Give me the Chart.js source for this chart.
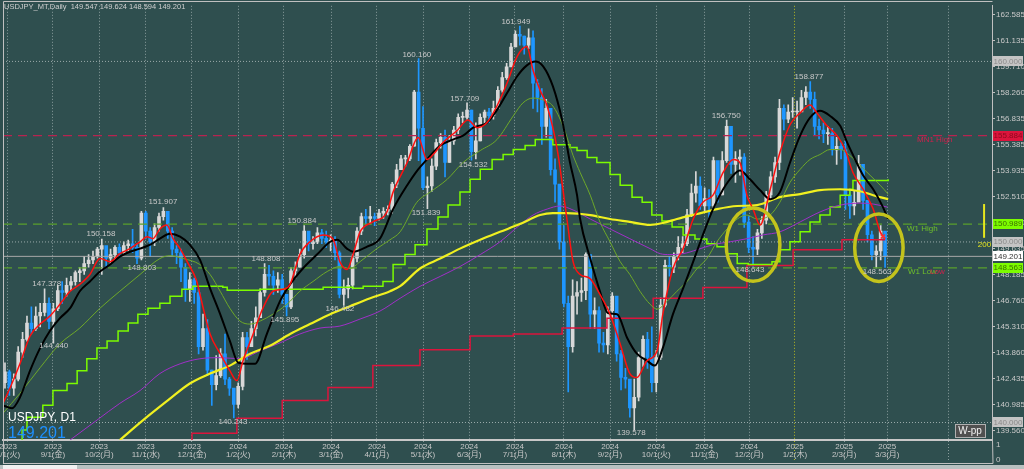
<!DOCTYPE html>
<html>
<head>
<meta charset="utf-8">
<script src="https://cdn.jsdelivr.net/npm/chart.js@4.4.1/dist/chart.umd.min.js"></script>
<style>
html, body { margin: 0; padding: 0; background: #2f4f4f; overflow: hidden; }
canvas { display: block; }
</style>
</head>
<body>
<canvas id="chart" width="1024" height="469"></canvas>
<script>
// ============================================================================
// 1. DATA  (one bar ~ 2 trading days, USDJPY Aug 2023 -> Mar 2025)
// ============================================================================

const firstOpen = 142.2;

const closes = [
  142.8, 141.9, 142.4, 143.9, 144.6, 145.5, 145.2, 145.9, 146.1, 146.6, 145.6,        // Aug 23
  146.3, 147.3, 147.2, 147.6, 147.8, 148.3, 148.4, 148.8, 149.0, 149.2, 149.6,        // Sep
  149.8, 149.1, 149.3, 149.7, 149.4, 149.8, 149.9, 149.7, 149.1, 151.6,               // Oct
  150.6, 150.0, 150.8, 151.4, 151.7, 150.6, 149.6, 149.4, 148.6, 147.4, 147.9,        // Nov
  147.2, 144.2, 145.2, 142.9, 142.1, 142.6, 143.8, 142.4, 141.9, 141.0,               // Dec
  142.0, 144.7, 144.2, 145.2, 145.8, 147.2, 148.2, 148.1, 147.6, 147.9, 147.1,        // Jan 24
  146.4, 148.4, 148.6, 149.3, 150.6, 149.9, 150.0, 150.5, 150.2, 150.0,               // Feb
  150.1, 149.4, 147.1, 147.4, 147.6, 149.1, 150.6, 151.4, 151.3, 151.4, 151.3,        // Mar
  151.6, 151.7, 151.8, 153.2, 154.0, 154.6, 154.6, 155.3, 158.3, 156.3, 153.0,        // Apr
  153.1, 154.2, 155.5, 155.8, 154.4, 155.6, 156.2, 156.9, 156.9, 157.3,               // May
  155.0, 155.6, 156.9, 157.2, 157.0, 157.4, 158.4, 159.1, 159.7, 160.8,               // Jun
  161.5, 161.4, 160.9, 161.3, 158.8, 158.0, 156.4, 157.4, 154.0, 153.2, 150.0,        // Jul
  146.6, 144.2, 147.0, 147.2, 147.3, 149.3, 146.0, 146.2, 144.4, 144.3, 146.2,        // Aug
  147.0, 143.8, 142.5, 142.4, 140.8, 141.4, 143.6, 144.6, 143.6, 142.2,               // Sep
  143.6, 146.5, 148.7, 148.6, 149.2, 149.7, 149.9, 151.5, 152.7, 153.1, 152.0,        // Oct
  152.4, 152.0, 154.5, 152.6, 154.5, 156.4, 154.3, 154.6, 154.7, 151.1,               // Nov
  149.7, 149.6, 150.5, 151.2, 152.6, 153.6, 154.4, 157.4, 156.8, 157.2, 157.2,        // Dec
  157.2, 158.0, 158.3, 157.9, 156.4, 156.2, 156.0, 156.0, 155.1, 155.3, 155.1,        // Jan 25
  152.6, 152.0, 152.2, 154.3, 152.3, 150.4, 149.3, 149.5, 150.6,                      // Feb
  149.2                                                                               // Mar
];

const highs = [
  143.3, 142.9, 142.7, 144.2, 145.0, 145.9, 146.4, 146.4, 146.6, 147.4, 146.9,
  146.6, 147.6, 147.8, 148.0, 148.1, 148.4, 148.6, 149.2, 149.3, 149.5, 149.7,
  150.16, 149.6, 149.6, 149.8, 149.9, 150.0, 150.1, 150.7, 149.9, 151.7,
  151.7, 150.8, 151.0, 151.6, 151.9, 151.5, 150.8, 149.8, 149.6, 148.8, 148.3,
  148.0, 147.4, 146.0, 145.7, 142.9, 143.7, 144.1, 144.9, 142.5, 141.8,
  142.2, 145.0, 145.0, 145.6, 146.4, 147.4, 148.8, 148.7, 148.4, 148.3, 148.2,
  147.0, 148.6, 148.9, 149.6, 150.9, 150.4, 150.3, 150.8, 150.7, 150.6,
  150.4, 150.3, 149.5, 147.9, 148.0, 149.3, 150.8, 151.6, 151.8, 151.97, 151.6,
  151.8, 151.9, 152.0, 153.3, 154.3, 154.8, 154.8, 155.4, 158.4, 160.16, 157.5,
  153.6, 154.6, 155.7, 156.0, 156.2, 155.9, 156.4, 157.1, 157.2, 157.71,
  157.3, 156.6, 157.1, 157.3, 157.4, 157.8, 158.6, 159.4, 159.9, 161.0,
  161.7, 161.95, 161.4, 161.8, 161.7, 159.0, 158.5, 157.9, 157.4, 154.6, 153.0,
  150.9, 147.0, 147.9, 147.8, 148.0, 149.4, 149.1, 146.9, 146.4, 145.0, 146.4,
  147.2, 146.5, 144.0, 143.0, 141.7, 142.4, 143.9, 144.8, 145.0, 145.3,
  144.0, 146.9, 149.0, 149.2, 149.4, 150.3, 150.3, 151.8, 153.2, 153.9, 153.6,
  153.0, 152.9, 154.7, 154.4, 155.0, 156.75, 156.2, 155.0, 155.1, 154.9,
  151.4, 150.3, 150.7, 151.4, 152.8, 153.9, 154.7, 157.9, 157.6, 157.6, 158.0,
  157.8, 158.4, 158.6, 158.88, 158.3, 156.8, 156.6, 156.4, 156.3, 155.8, 155.5,
  155.6, 152.9, 152.8, 154.8, 154.3, 152.3, 150.6, 149.8, 150.9,
  149.6
];

const lows = [
  141.9, 141.5, 141.5, 142.3, 143.6, 144.5, 144.9, 145.1, 145.3, 145.9, 145.2,
  144.4, 146.2, 146.6, 147.0, 147.3, 147.6, 147.8, 148.2, 148.6, 148.8, 149.1,
  148.2, 148.6, 148.8, 149.0, 149.2, 149.3, 149.5, 149.4, 148.8, 149.0,
  150.2, 149.2, 149.8, 150.6, 151.2, 150.2, 149.2, 148.8, 147.8, 146.7, 146.7,
  146.6, 143.8, 144.0, 142.6, 140.95, 141.8, 142.5, 142.1, 141.5, 140.25,
  140.8, 141.8, 143.5, 144.4, 144.8, 145.9, 147.0, 147.6, 147.1, 147.2, 146.6,
  145.9, 146.3, 148.0, 148.6, 149.1, 149.5, 149.6, 149.9, 149.9, 149.7,
  149.5, 149.0, 146.9, 146.48, 146.9, 147.4, 148.9, 150.4, 150.9, 151.0, 150.9,
  151.2, 151.3, 151.5, 151.6, 153.0, 154.0, 154.2, 154.5, 155.3, 154.5, 152.9,
  151.84, 152.8, 154.0, 155.2, 153.6, 154.4, 155.4, 156.0, 156.6, 156.8,
  154.53, 154.6, 155.6, 156.5, 156.6, 156.8, 157.4, 158.3, 159.0, 159.8,
  160.8, 160.9, 160.4, 160.7, 157.4, 157.2, 155.4, 155.8, 153.7, 152.2, 149.6,
  146.4, 141.7, 143.9, 146.0, 146.7, 146.8, 145.2, 145.2, 143.9, 143.9, 143.8,
  145.8, 143.4, 141.8, 141.9, 140.3, 139.58, 141.2, 143.1, 143.0, 141.7,
  141.7, 143.5, 146.4, 148.1, 148.3, 149.0, 149.4, 149.8, 151.4, 152.2, 151.8,
  151.7, 151.3, 151.9, 152.2, 152.6, 154.4, 153.8, 153.3, 153.7, 150.8,
  149.4, 148.64, 149.3, 150.2, 151.0, 152.3, 153.3, 154.0, 156.2, 156.6, 156.9,
  156.3, 157.3, 157.6, 157.4, 155.9, 155.7, 155.5, 155.4, 154.8, 154.3, 154.6,
  151.8, 151.3, 151.5, 152.8, 151.8, 150.0, 149.0, 148.56, 149.0,
  148.59
];

// month separators (bar position) and their labels
const monthTicks = [0.68, 10.9, 21.4, 32.0, 42.5, 53.0, 63.4, 74.1, 84.5, 95.0, 105.5,
  115.9, 127.0, 137.5, 148.0, 158.9, 169.1, 179.5, 190.7, 200.5, 214.5];
const monthLabels = [
  ['2023', '8/1(火)'], ['2023', '9/1(金)'], ['2023', '10/2(月)'], ['2023', '11/1(水)'],
  ['2023', '12/1(金)'], ['2024', '1/2(火)'], ['2024', '2/1(木)'], ['2024', '3/1(金)'],
  ['2024', '4/1(月)'], ['2024', '5/1(水)'], ['2024', '6/3(月)'], ['2024', '7/1(月)'],
  ['2024', '8/1(木)'], ['2024', '9/2(月)'], ['2024', '10/1(火)'], ['2024', '11/1(金)'],
  ['2024', '12/2(月)'], ['2025', '1/2(木)'], ['2025', '2/3(月)'], ['2025', '3/3(月)'], ''
];
const yearSeparator = 179.5; // yellow dotted line

const priceTicks = [162.585, 161.135, 159.710, 158.260, 156.835, 155.385, 153.935, 152.510,
  151.060, 149.635, 148.185, 146.760, 145.310, 143.860, 142.435, 140.985, 139.560];

// indicator lines: [bar, price]
const maFast = [[-0.45,141.06],[1.1,141.88],[3.4,143.25],[5.7,144.79],[8.0,145.45],[10.2,145.89],[12.5,146.55],[14.8,147.27],[17.0,147.65],[19.3,148.20],[21.6,149.08],[23.9,148.91],[26.1,149.35],[28.4,149.63],[30.7,150.01],[32.3,150.29],[33.6,150.18],[35.2,150.72],[36.8,150.94],[38.2,150.18],[39.8,149.63],[41.4,148.91],[43.6,147.81],[44.3,147.10],[46.6,144.90],[48.9,143.81],[51.1,142.87],[52.7,142.32],[54.1,143.42],[56.4,144.90],[58.6,146.33],[60.9,147.27],[63.2,147.38],[64.8,147.65],[67.0,149.30],[69.3,150.01],[72.3,150.39],[74.5,150.18],[76.1,148.91],[77.7,148.47],[79.1,149.30],[80.7,150.56],[83.6,151.11],[86.8,151.66],[88.2,152.76],[91.4,154.40],[93.9,155.78],[95.9,154.57],[97.3,154.84],[99.5,155.50],[102.7,156.16],[105.2,156.76],[107.3,156.33],[109.5,156.60],[111.8,157.53],[114.1,158.80],[116.4,160.28],[118.6,160.83],[120.0,159.51],[121.6,158.41],[123.2,157.53],[125.5,155.12],[127.7,151.27],[129.1,148.91],[130.7,148.20],[132.9,147.98],[135.2,147.10],[137.5,146.00],[139.8,144.35],[142.0,142.71],[143.6,142.49],[145.9,143.42],[148.2,143.97],[149.5,146.00],[151.8,148.53],[154.1,149.63],[156.4,151.27],[158.6,152.20],[160.9,152.59],[163.2,153.85],[165.5,154.57],[167.0,154.40],[168.6,152.59],[170.0,151.82],[171.6,150.94],[173.9,152.92],[176.1,154.95],[178.4,156.49],[180.7,157.15],[182.95,157.59],[184.5,157.15],[186.8,156.43],[189.1,155.89],[190.9,155.12],[192.7,153.85],[195.0,152.92],[197.3,151.82],[198.9,150.56],[200.0,150.18]];

const maMid = [[-0.45,140.95],[1.6,140.79],[3.4,141.39],[5.7,142.87],[8.0,144.13],[10.2,145.07],[12.5,145.78],[14.8,146.33],[17.0,147.27],[19.3,147.81],[21.6,148.36],[23.9,148.75],[26.1,149.19],[28.4,149.46],[30.7,149.63],[33.0,149.85],[35.2,150.18],[37.5,150.45],[39.8,150.29],[42.0,149.85],[44.3,149.02],[46.6,147.43],[48.9,146.00],[51.1,144.52],[53.0,143.31],[55.0,143.25],[56.8,143.25],[59.5,144.90],[62.5,146.72],[64.8,147.65],[67.7,148.53],[70.9,149.30],[73.9,150.01],[75.5,150.12],[77.7,149.63],[79.1,149.46],[82.3,149.74],[85.2,150.18],[88.2,151.82],[91.4,153.14],[93.9,154.02],[95.9,154.57],[98.9,155.34],[101.8,155.67],[104.1,155.89],[106.4,156.33],[109.5,156.60],[111.8,157.31],[114.1,158.25],[116.4,159.18],[118.6,159.78],[120.5,160.00],[122.3,159.73],[124.5,158.63],[126.6,156.76],[128.4,154.40],[130.0,152.59],[130.7,151.27],[133.0,149.08],[135.2,147.27],[137.0,146.06],[139.1,146.00],[141.4,144.68],[143.6,143.81],[145.9,143.42],[147.7,143.15],[149.5,144.13],[151.8,146.00],[154.1,147.43],[156.4,148.91],[158.6,150.39],[160.9,151.82],[163.2,152.92],[165.5,153.69],[167.0,153.96],[169.3,153.47],[171.6,152.87],[173.9,152.37],[176.1,152.76],[178.4,154.40],[180.7,155.89],[182.95,156.88],[185.2,157.26],[187.5,156.98],[189.8,156.43],[191.4,155.50],[193.2,154.57],[195.0,153.69],[197.3,152.92],[199.3,152.04],[200.7,151.27]];

const maSlow = [[-0.45,140.51],[3.4,141.61],[8.0,143.04],[12.5,144.36],[17.0,145.23],[21.6,146.33],[26.1,147.27],[30.7,148.20],[35.2,149.08],[37.5,149.24],[40.5,149.08],[44.3,148.75],[46.6,148.20],[48.9,147.27],[51.1,146.33],[53.4,145.62],[55.7,145.45],[58.0,145.62],[60.9,146.00],[64.1,146.55],[67.0,147.27],[70.0,147.81],[73.2,148.36],[76.1,148.64],[78.4,148.53],[80.7,148.91],[84.5,149.63],[87.5,150.12],[89.8,150.56],[93.6,152.20],[96.6,152.76],[100.5,153.47],[104.1,154.40],[108.0,155.06],[111.8,155.67],[115.5,156.98],[117.7,157.70],[120.0,157.97],[122.3,157.86],[124.5,157.53],[126.8,156.43],[129.1,154.79],[130.7,153.85],[133.0,152.59],[135.2,151.11],[137.5,150.01],[139.8,148.91],[142.0,148.20],[144.3,147.27],[146.6,146.55],[148.2,146.28],[150.5,146.72],[152.7,147.27],[155.0,147.81],[157.3,148.53],[159.5,149.08],[161.8,150.01],[164.1,150.72],[166.4,151.27],[168.6,151.49],[170.9,151.27],[173.9,151.49],[176.1,152.20],[178.4,153.30],[180.7,154.02],[182.95,154.57],[185.2,154.84],[187.5,155.12],[189.8,155.12],[192.0,154.79],[194.3,154.24],[196.6,153.69],[198.9,153.14],[200.7,152.65]];

const maPurple = [[14.8,139.03],[20.9,140.13],[26.1,141.06],[30.7,141.77],[35.2,142.71],[39.8,143.25],[44.3,143.53],[48.9,143.59],[53.4,143.53],[58.0,143.97],[62.5,144.41],[67.0,144.90],[71.6,145.23],[76.1,145.34],[80.7,145.73],[85.2,146.17],[89.8,146.88],[94.3,147.54],[98.9,148.09],[103.4,148.64],[108.0,149.30],[112.5,150.01],[117.0,150.94],[120.0,151.49],[123.2,151.82],[126.1,151.99],[129.1,151.77],[133.0,151.27],[137.5,150.72],[142.0,150.18],[146.6,149.63],[148.9,149.35],[151.1,149.30],[154.1,149.35],[157.3,149.57],[160.9,149.85],[164.8,150.01],[168.6,150.18],[172.3,150.39],[176.1,150.56],[180.7,151.11],[185.2,151.66],[189.8,152.04],[194.3,152.15],[197.3,152.10],[200.5,151.93]];

const ma200 = [[26.1,139.03],[31.4,140.13],[37.0,141.22],[42.0,142.16],[46.6,142.71],[51.1,143.15],[55.7,143.81],[60.2,144.25],[64.8,144.90],[69.3,145.45],[73.9,146.00],[78.4,146.44],[83.0,146.88],[87.5,147.27],[89.8,147.55],[94.3,148.53],[98.9,149.08],[103.4,149.63],[108.0,150.12],[112.5,150.56],[117.0,150.99],[121.6,151.49],[124.5,151.60],[127.7,151.60],[133.0,151.49],[137.5,151.27],[142.0,151.11],[146.6,150.94],[149.5,151.05],[152.7,151.27],[157.3,151.55],[161.8,151.82],[166.4,151.99],[170.9,152.04],[176.1,152.48],[180.7,152.65],[185.2,152.87],[189.8,152.92],[194.3,152.81],[197.3,152.59],[200.7,152.37]];

const stepLime = [[-0.45,138.6],[3.9,139.58],[5.0,140.29],[8.6,140.95],[10.9,141.77],[14.1,142.16],[16.4,142.87],[18.6,143.53],[20.9,144.13],[23.2,144.52],[25.7,145.07],[28.0,145.51],[30.2,146.00],[32.5,146.33],[35.2,146.61],[37.5,146.99],[40.2,147.38],[42.7,147.54],[49.5,147.49],[50.5,147.32],[58.0,147.38],[72.3,147.49],[79.1,147.43],[81.4,147.54],[85.9,147.81],[88.2,148.75],[90.9,149.30],[93.2,149.85],[95.9,150.72],[98.4,151.38],[100.7,152.04],[103.4,152.76],[105.7,153.47],[108.0,154.02],[110.7,154.57],[113.2,154.84],[115.5,155.12],[118.2,155.34],[120.5,155.67],[124.5,155.39],[128.4,155.23],[130.0,155.06],[132.3,154.68],[134.5,154.40],[137.5,153.74],[139.8,153.14],[142.5,152.48],[144.8,152.20],[147.0,151.49],[149.3,151.16],[151.6,150.83],[154.1,150.39],[156.8,150.17],[159.5,149.90],[161.8,149.74],[164.1,149.35],[166.4,148.80],[168.9,148.75],[174.3,148.91],[176.1,149.57],[178.4,150.01],[180.7,150.56],[182.95,151.11],[185.2,151.49],[187.5,151.93],[189.8,152.59],[192.0,152.92],[192.7,153.41],[200.7,153.47]];

const stepRed = [[42.5,138.8],[42.5,139.41],[52.7,140.24],[63.0,141.22],[73.4,141.94],[83.6,143.15],[94.3,144.03],[105.7,144.79],[115.5,144.90],[126.6,145.23],[136.8,145.78],[147.3,146.88],[158.6,147.48],[168.6,148.69],[179.1,149.57],[190.2,150.12],[200.0,150.12]];

const levelMN1High = 155.884;
const levelW1High = 150.989;
const levelW1Low = 148.563;
const bidPrice = 149.201;
const roundLevels = [160, 150, 140];

const peakLabels = [
  [116.1,162.20,'161.949'],[93.6,160.39,'160.160'],[104.5,157.92,'157.709'],[106.4,154.29,'154.532'],
  [95.7,151.60,'151.839'],[182.7,159.13,'158.877'],[163.9,156.98,'156.750'],[35.9,152.21,'151.907'],
  [67.5,151.16,'150.884'],[21.8,150.45,'150.158'],[31.1,148.58,'148.803'],[59.3,149.08,'148.808'],
  [9.5,147.70,'147.378'],[63.6,145.67,'145.895'],[76.1,146.28,'146.482'],[11.1,144.25,'144.440'],
  [51.8,140.02,'140.243'],[142.3,139.41,'139.578'],[169.3,148.47,'148.643'],[198.2,148.36,'148.563']
];

// [centre bar, centre price, radius in bars, radius in price]
const circles = [[170.0, 149.85, 6.1, 2.03], [198.6, 149.68, 5.5, 1.87]];

// [price, fill, text]
const priceBoxes = [
  [160.000, '#c4c4c4', '#8a8a8a'], [155.884, '#dc143c', '#8b0a1e'], [150.989, '#7cfc00', '#3c6e00'],
  [150.000, '#c4c4c4', '#8a8a8a'], [149.201, '#ffffff', '#303030'], [148.563, '#7cfc00', '#3c6e00'],
  [140.000, '#c4c4c4', '#8a8a8a']
];

// ============================================================================
// 2. HELPERS
// ============================================================================

const xMin = -0.45, xMax = 224.3, yMin = 139.03, yMax = 163.08;
const opens = [firstOpen].concat(closes.slice(0, -1));
const candleColors = closes.map((c, i) => c >= opens[i] ? '#d8d8d8' : '#1e96ff');

function pts(arr) { return arr.map(p => ({ x: p[0], y: p[1] })); }

function maLine(arr, color, width, order) {
  return { type: 'line', data: pts(arr), borderColor: color, borderWidth: width, pointRadius: 0,
    fill: false, order: order, cubicInterpolationMode: 'monotone' };
}

function stepLine(arr, color, width, order) {
  return { type: 'line', data: pts(arr), borderColor: color, borderWidth: width, pointRadius: 0,
    fill: false, order: order, stepped: true };
}

function levelLine(v, color, dash, width, order) {
  return { type: 'line', data: [{ x: xMin, y: v }, { x: xMax, y: v }], borderColor: color,
    borderWidth: width, borderDash: dash, pointRadius: 0, fill: false, order: order };
}

// ============================================================================
// 3. DECORATION PLUGIN
// ============================================================================

const FONT = "'Liberation Sans', 'Noto Sans CJK JP', sans-serif";

const decor = {
  id: 'decor',
  beforeDraw(chart) {
    const c = chart.ctx;
    c.save();
    c.fillStyle = '#2f4f4f';
    c.fillRect(0, 0, chart.width, chart.height);
    c.restore();
  },
  afterDatasetsDraw(chart) {
    const c = chart.ctx, xs = chart.scales.x, ys = chart.scales.y;
    c.save();
    // yellow rings
    c.strokeStyle = '#c3c31c';
    c.lineWidth = 3.5;
    circles.forEach(e => {
      const cx = xs.getPixelForValue(e[0]), cy = ys.getPixelForValue(e[1]);
      const rx = xs.getPixelForValue(e[0] + e[2]) - cx;
      const ry = cy - ys.getPixelForValue(e[1] + e[3]);
      c.beginPath();
      c.ellipse(cx, cy, rx, ry, 0, 0, Math.PI * 2);
      c.stroke();
    });
    // high / low price tags
    c.font = '8px ' + FONT;
    c.fillStyle = '#c8c8c8';
    c.textAlign = 'center';
    c.textBaseline = 'middle';
    peakLabels.forEach(l => c.fillText(l[2], xs.getPixelForValue(l[0]), ys.getPixelForValue(l[1])));
    c.restore();
  },
  afterDraw(chart) {
    const c = chart.ctx, xs = chart.scales.x, ys = chart.scales.y;
    const area = chart.chartArea;
    c.save();

    // level names
    c.font = '8px ' + FONT;
    c.textAlign = 'left';
    c.textBaseline = 'middle';
    c.fillStyle = '#d0204c';
    c.fillText('MN1 High', 917, ys.getPixelForValue(levelMN1High) + 4);
    c.fillStyle = '#6fc02a';
    c.fillText('W1 High', 907, ys.getPixelForValue(levelW1High) + 5);
    c.fillText('W1 Low', 908, ys.getPixelForValue(levelW1Low) + 4);
    c.fillStyle = '#d0204c';
    c.fillText('Low', 930, ys.getPixelForValue(levelW1Low) + 4);

    // "200" marker
    c.strokeStyle = '#e6e61e';
    c.lineWidth = 2;
    c.beginPath();
    c.moveTo(xs.getPixelForValue(222.5), ys.getPixelForValue(152.10));
    c.lineTo(xs.getPixelForValue(222.5), ys.getPixelForValue(150.23));
    c.stroke();
    c.fillStyle = '#e6e61e';
    c.textAlign = 'center';
    c.fillText('200', xs.getPixelForValue(222.6), ys.getPixelForValue(149.85));

    // price boxes on the axis
    c.font = '8px ' + FONT;
    priceBoxes.forEach(b => {
      const y = ys.getPixelForValue(b[0]);
      c.fillStyle = b[1];
      c.fillRect(993, Math.round(y) - 5, 30, 10);
      c.fillStyle = b[2];
      c.textAlign = 'center';
      c.fillText(b[0].toFixed(3), 1008, y);
    });

    // chart frame
    c.strokeStyle = '#c0c0c0';
    c.lineWidth = 1;
    c.beginPath();
    c.moveTo(area.left + 0.5, 463);
    c.lineTo(area.left + 0.5, 1.5);
    c.lineTo(area.right + 0.5, 1.5);
    c.moveTo(area.left, 463.5);
    c.lineTo(area.right + 1, 463.5);
    c.lineTo(area.right + 0.5, 440);
    c.stroke();
    c.fillStyle = '#b8c0c0';
    c.fillRect(0, 465, 1024, 4);
    c.fillStyle = '#f0f0f0';
    c.fillRect(3, 465, 74, 4);

    // sub window scale
    c.fillStyle = '#c8c8c8';
    c.textAlign = 'left';
    c.fillText('1', 996, 445);
    c.fillText('0', 996, 460);

    // symbol info
    c.fillStyle = '#d0d0d0';
    c.font = '7.5px ' + FONT;
    c.fillText('USDJPY_MT,Daily  149.547 149.624 148.594 149.201', 4, 7);
    c.fillStyle = '#ffffff';
    c.font = '12px ' + FONT;
    c.fillText('USDJPY, D1', 8, 418);
    c.fillStyle = '#1e90ff';
    c.font = '16px ' + FONT;
    c.fillText('149.201', 8, 434);

    // W-pp button
    c.fillStyle = '#505050';
    c.fillRect(955, 424, 30, 13);
    c.strokeStyle = '#b0b0b0';
    c.strokeRect(955.5, 424.5, 30, 13);
    c.fillStyle = '#f0f0f0';
    c.font = '10px ' + FONT;
    c.textAlign = 'center';
    c.fillText('W-pp', 970, 431);

    c.restore();
  }
};

// ============================================================================
// 4. CHART
// ============================================================================

Chart.defaults.font.family = FONT;
Chart.defaults.font.size = 8;

const gridColor = ctx => (ctx.tick && ctx.tick.value === yearSeparator) ? '#b8b820' : '#8a9c9c';

new Chart(document.getElementById('chart'), {
  type: 'bar',
  data: {
    datasets: [
      { label: 'wick', data: closes.map((c, i) => ({ x: i, y: [lows[i], highs[i]] })),
        backgroundColor: candleColors, barThickness: 1, grouped: false, order: 21 },
      { label: 'body', data: closes.map((c, i) => ({ x: i, y: [opens[i], c] })),
        backgroundColor: candleColors, barThickness: 3, minBarLength: 1, grouped: false, order: 20 },
      ...roundLevels.map(v => levelLine(v, '#9aaaaa', [1, 2], 1, 19)),
      levelLine(bidPrice, '#a8a8a8', [], 1, 18),
      levelLine(levelMN1High, '#b8234f', [9, 6], 1.3, 12),
      levelLine(levelW1High, '#5aa02c', [9, 6], 1.3, 12),
      levelLine(levelW1Low, '#5aa02c', [9, 6], 1.3, 12),
      stepLine(stepRed, '#dc143c', 1.5, 9),
      stepLine(stepLime, '#7cfc00', 1.5, 8),
      maLine(maPurple, '#a030c8', 1, 7),
      maLine(ma200, '#f0f020', 2.2, 6),
      maLine(maSlow, '#6ea82a', 1, 5),
      maLine(maMid, '#000000', 2, 4),
      maLine(maFast, '#ff1010', 1.5, 3),
      { type: 'line', data: [{ x: 199.5, y: 150.3 }], showLine: false, pointStyle: 'crossRot',
        pointRadius: 3, borderColor: '#ff3030', borderWidth: 1.5, order: 2 }
    ]
  },
  options: {
    responsive: false,
    animation: false,
    events: [],
    layout: { autoPadding: false, padding: { left: 3, top: 2, right: 0, bottom: 0 } },
    plugins: { legend: { display: false }, tooltip: { enabled: false } },
    scales: {
      x: {
        type: 'linear', position: 'bottom', min: xMin, max: xMax, offset: false,
        afterBuildTicks: s => { s.ticks = monthTicks.map(v => ({ value: v })); },
        afterFit: s => { s.height = 29; },
        ticks: { callback: (v, i) => monthLabels[i], autoSkip: false, maxRotation: 0, minRotation: 0,
          padding: -19, color: '#c8c8c8', font: { size: 8, lineHeight: 1 } },
        grid: { color: gridColor, tickColor: gridColor, lineWidth: 1, tickLength: 22,
          tickBorderDash: [1, 2], offset: false },
        border: { display: true, color: '#c8c8c8', width: 2, dash: [1, 2] }
      },
      y: {
        type: 'linear', position: 'right', min: yMin, max: yMax,
        afterBuildTicks: s => { s.ticks = priceTicks.map(v => ({ value: v })); },
        afterFit: s => { s.width = 32; },
        ticks: { callback: v => v.toFixed(3), autoSkip: false, padding: 1, color: '#c8c8c8', font: { size: 8 } },
        grid: { drawOnChartArea: false, drawTicks: true, tickLength: 3, color: '#c0c0c0' },
        border: { display: true, color: '#c0c0c0', width: 1 }
      }
    }
  },
  plugins: [decor]
});
</script>
</body>
</html>
